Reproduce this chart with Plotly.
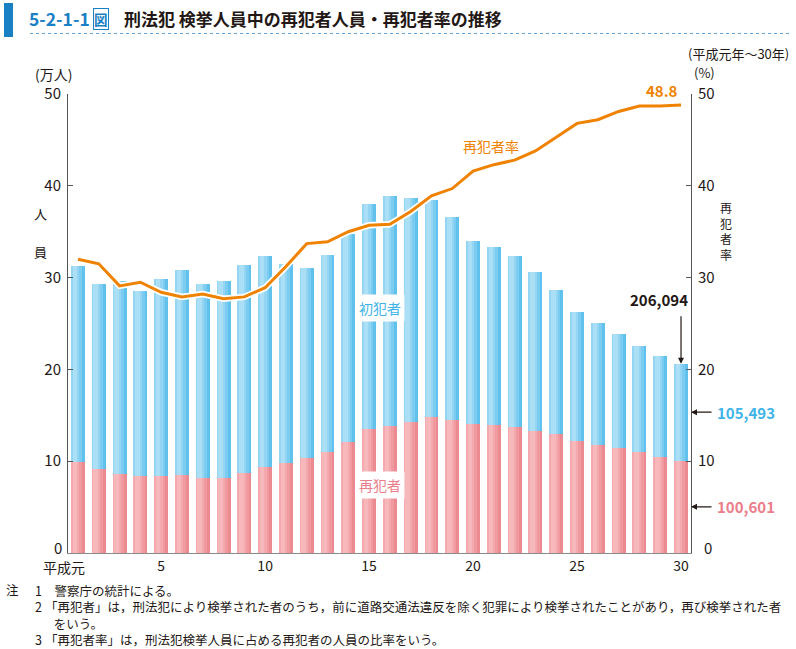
import plotly.graph_objects as go

# ---- data (平成元年～30年) ----
years = list(range(1, 31))
# 再犯者人員 (万人)
recidivists = [9.95, 9.14, 8.56, 8.38, 8.38, 8.53, 8.20, 8.12, 8.74, 9.36,
               9.80, 10.38, 10.96, 12.08, 13.50, 13.83, 14.30, 14.85, 14.50, 14.05,
               13.98, 13.72, 13.32, 13.00, 12.19, 11.80, 11.47, 10.99, 10.49, 10.06]
# 初犯者人員 (万人)
first_offenders = [21.35, 20.16, 21.04, 20.12, 21.42, 22.27, 21.10, 21.48, 22.66, 23.04,
                   21.70, 20.62, 21.54, 22.72, 24.50, 25.07, 24.40, 23.55, 22.10, 19.95,
                   19.32, 18.58, 17.28, 15.70, 14.01, 13.30, 12.43, 11.61, 11.01, 10.55]
# 再犯者率 (%)
rate = [32.0, 31.5, 29.1, 29.5, 28.4, 27.9, 28.2, 27.7, 27.9, 28.9,
        31.2, 33.7, 33.9, 35.0, 35.7, 35.8, 37.2, 38.9, 39.7, 41.6,
        42.3, 42.8, 43.8, 45.3, 46.8, 47.2, 48.1, 48.7, 48.7, 48.8]
x_tickvals = [5, 10, 15, 20, 25, 30]
x_ticktext = ["5", "10", "15", "20", "25", "30"]
first_year_label = "平成元"
y_tickvals = [10, 20, 30, 40, 50]
zero_label = "0"
last_total_label = "206,094"
last_first_label = "105,493"
last_recid_label = "100,601"
last_rate_label = "48.8"

FONT = "Noto Sans CJK JP"
FIG_W, FIG_H = 796, 649
L, R, T, B = 68, 105, 94, 96
PW, PH = FIG_W - L - R, FIG_H - T - B


def px(xp):
    return (xp - L) / PW


def py(yp):
    return (FIG_H - B - yp) / PH


fig = go.Figure()

bw = 0.67
blue_layers = [(0.0, 1.0, "#5fc1ec"), (0.0, 0.8, "#7bccf0"), (0.0, 0.6, "#94d5f3"), (0.12, 0.33, "#aadff6")]
pink_layers = [(0.0, 1.0, "#ec8a91"), (0.0, 0.8, "#f09aa0"), (0.0, 0.6, "#f3a9ad"), (0.12, 0.33, "#f6b8bb")]

for (o, w, c) in pink_layers:
    fig.add_trace(go.Bar(x=years, y=recidivists, width=bw * w, offset=-bw / 2 + bw * o,
                         marker=dict(color=c, line=dict(width=0)), showlegend=False,
                         hoverinfo="skip"))
for (o, w, c) in blue_layers:
    fig.add_trace(go.Bar(x=years, y=first_offenders, base=recidivists, width=bw * w,
                         offset=-bw / 2 + bw * o,
                         marker=dict(color=c, line=dict(width=0)), showlegend=False,
                         hoverinfo="skip"))

fig.add_trace(go.Scatter(x=years, y=rate, yaxis="y2", mode="lines",
                         line=dict(color="white", width=6.5), showlegend=False, hoverinfo="skip"))
fig.add_trace(go.Scatter(x=years, y=rate, yaxis="y2", mode="lines",
                         line=dict(color="#ef8200", width=3), showlegend=False))

axis_font = dict(family=FONT, size=15, color="#231815")
fig.update_layout(
    width=FIG_W, height=FIG_H,
    margin=dict(l=L, r=R, t=T, b=B, autoexpand=False),
    paper_bgcolor="white", plot_bgcolor="white",
    barmode="overlay", bargap=0,
    font=dict(family=FONT, color="#231815"),
    xaxis=dict(range=[0.52, 30.48], tickvals=x_tickvals, ticktext=x_ticktext,
               showgrid=False, zeroline=False, showline=True, linecolor="#8a8a8a",
               linewidth=1, ticks="", tickfont=dict(family=FONT, size=14, color="#231815")),
    yaxis=dict(range=[0, 50], tickvals=y_tickvals, showgrid=False,
               zeroline=False, showline=True, linecolor="#555", linewidth=1,
               ticks="inside", ticklen=5, tickcolor="#555", tickfont=axis_font,
               ticklabelstandoff=3),
    yaxis2=dict(range=[0, 50], tickvals=y_tickvals, overlaying="y",
                side="right", showgrid=False, zeroline=False, showline=True,
                linecolor="#555", linewidth=1, ticks="inside", ticklen=5,
                tickcolor="#555", tickfont=axis_font, ticklabelstandoff=3),
)

ann = []


def text(xp, yp, s, size=13, color="#231815", bold=False, xanchor="center",
         yanchor="middle", bg=None, **kw):
    d = dict(x=px(xp), y=py(yp), xref="paper", yref="paper", text=("<b>%s</b>" % s) if bold else s,
             showarrow=False, xanchor=xanchor, yanchor=yanchor,
             font=dict(family=FONT, size=size, color=color))
    if bg:
        d.update(bgcolor=bg, borderpad=3)
    d.update(kw)
    ann.append(d)


# title
text(27, 19, "5-2-1-1", size=17.5, color="#1a80c4", bold=True, xanchor="left")
text(101, 19, "図", size=13.5, color="#1a80c4", bold=True, bordercolor="#1a80c4",
     borderwidth=1, borderpad=0)
text(122, 19, "刑法犯 検挙人員中の再犯者人員・再犯者率の推移", size=17, bold=True, xanchor="left")

# axis units
text(53, 74, "(万人)", size=14, borderpad=0)
text(704, 73, "(%)", size=13, borderpad=0)
text(790, 54, "(平成元年～30年)", size=13, xanchor="right", borderpad=0)
text(40, 213, "人", size=13)
text(40, 252, "員", size=13)
text(726, 231, "再<br>犯<br>者<br>率", size=12)

# first-year tick label and zero labels (offset as in the reference)
ann.append(dict(x=years[0], y=py(567), xref="x", yref="paper", text=first_year_label,
                showarrow=False, xanchor="right", yanchor="middle", xshift=8, borderpad=0,
                font=dict(family=FONT, size=14, color="#231815")))
ann.append(dict(x=0, y=0, xref="paper", yref="y", text=zero_label, showarrow=False, borderpad=0,
                xanchor="right", yanchor="middle", xshift=-5, yshift=6, font=axis_font))
ann.append(dict(x=1, y=0, xref="paper", yref="y", text=zero_label, showarrow=False, borderpad=0,
                xanchor="left", yanchor="middle", xshift=12, yshift=6, font=axis_font))

# in-plot labels
text(380, 308, "初犯者", size=14, color="#3fb4e8", bg="white")
text(380, 485, "再犯者", size=14, color="#ec7d8b", bg="white")
text(491, 146, "再犯者率", size=14, color="#ef8200")
ann.append(dict(x=years[-1], y=rate[-1], xref="x", yref="y2", text="<b>%s</b>" % last_rate_label,
                showarrow=False, xanchor="right", yanchor="bottom", xshift=-1, yshift=2,
                font=dict(family=FONT, size=15, color="#ef8200")))

# last-year callouts
total_last = recidivists[-1] + first_offenders[-1]
ann.append(dict(x=years[-1], y=total_last, xref="x", yref="y", text="", showarrow=True,
                ax=0, ay=-49, arrowhead=2, arrowsize=1, arrowwidth=1.2, arrowcolor="#231815"))
ann.append(dict(x=years[-1], y=total_last, xref="x", yref="y", text="<b>%s</b>" % last_total_label,
                showarrow=False, xanchor="right", yanchor="bottom", xshift=9, yshift=52,
                font=dict(family=FONT, size=15, color="#231815")))
for val, lab, col in [(recidivists[-1] + first_offenders[-1] / 2, last_first_label, "#3fb4e8"),
                      (recidivists[-1] / 2, last_recid_label, "#ec7d8b")]:
    ann.append(dict(x=1, y=val, xref="paper", yref="y", text="", showarrow=True,
                    ax=22, ay=0, arrowhead=2, arrowsize=1, arrowwidth=1.2, arrowcolor="#231815"))
    ann.append(dict(x=1, y=val, xref="paper", yref="y", text="<b>%s</b>" % lab,
                    showarrow=False, xanchor="left", yanchor="middle", xshift=24,
                    font=dict(family=FONT, size=15, color=col)))

# notes
note_lines = [
    "1\u3000警察庁の統計による。",
    "2\u2005「再犯者」は，刑法犯により検挙された者のうち，前に道路交通法違反を除く犯罪により検挙されたことがあり，再び検挙された者",
    "\u3000\u2002をいう。",
    "3\u2005「再犯者率」は，刑法犯検挙人員に占める再犯者の人員の比率をいう。",
]
text(5, 589, "注", size=12.5, xanchor="left", borderpad=0)
text(34, 614.5, "<br>".join(note_lines), size=12.5, xanchor="left", borderpad=0, align="left")

fig.update_layout(annotations=ann)

fig.update_layout(shapes=[
    dict(type="rect", xref="paper", yref="paper", x0=px(4), x1=px(13), y0=py(3), y1=py(37),
         fillcolor="#1a80c4", line=dict(width=0)),
    dict(type="line", xref="paper", yref="paper", x0=px(30), x1=px(790), y0=py(33.5), y1=py(33.5),
         line=dict(color="#5fa3d6", width=1, dash="dot")),
])

fig.write_html("out.html")
